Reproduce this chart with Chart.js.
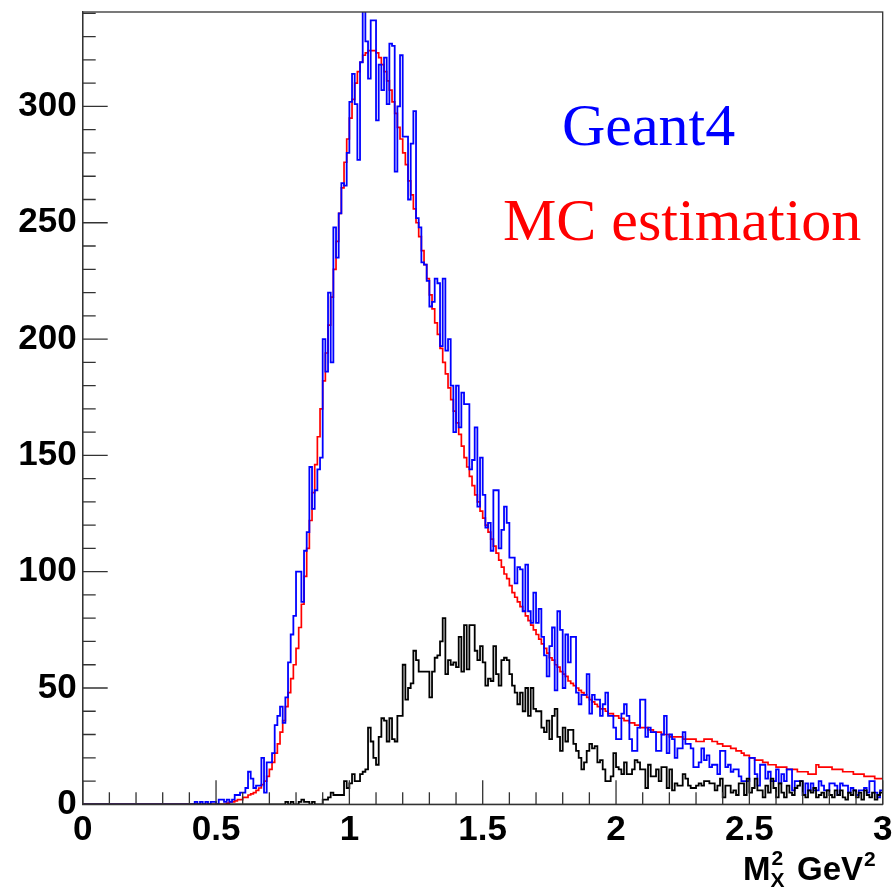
<!DOCTYPE html>
<html><head><meta charset="utf-8">
<script src="https://cdn.jsdelivr.net/npm/chart.js@4.4.1/dist/chart.umd.min.js"></script>
<style>html,body{margin:0;padding:0;background:#fff;overflow:hidden}#wrap{position:relative;width:895px;height:889px}</style>
</head><body><div id="wrap"><canvas id="c" width="895" height="889"></canvas></div>
<script>
// Histogram binning: 300 bins from 0 to 3 (M_X^2, GeV^2)
const BIN_LO = 0, BIN_WIDTH = 0.01;

// MC estimation (red)
const mcEstimation = [
0,0,0,0,0,0,0,0,0,0, 0,0,0,0,0,0,0,0,0,0, 0,0,0,0,0,0,0,0,0,0, 0,0,0,0,0,0,0,0,0,0, 0,0,0,0,0,0,0,0,0,0,
0,0,0,0,0.5,1,1,1.5,2,2,
3,3,4,4.5,5,6,7,8.5,10,12,
15,18,22,26,31,36,42,48,54,60,
67,76,86,98,110,122,134,146,158,170,
182,194,206,218,230,242,254,265,276,286,
295,303,310,315,319,322,323,324,324,324,
323,321,318,315,311,307,302,297,291,286,
280,275,268,262,256,250,244,238,232,226,
219,213,207,202,196,190,185,179,174,169,
164,159,154,149,145,141,137,133,130,126,
123,120,117,114,111,108,105,102,99,97,
94,91,89,87,85,83,81,79,77,75,
73,71,69,67,65,63,62,60,59,57,
56,55,53,52,51,50,49,48,47,46,
45,44,43,42,41,41,40,39,39,38,
38,37,37,36,36,35,35,34,34,33,
33,33,32,32,31,31,31,30,30,30,
29,29,29,29,29,28,28,28,28,28,
27,27,27,28,28,28,27,27,26,26,
25,25,25,24,24,23,23,22,21,21,
20,20,19,19,19,18,18,17,17,17,
16,16,16,16,15,15,15,15,14,14,
14,14,13,13,13,17,16,16,16,16,
16,15,15,15,15,14,14,14,14,13,
13,13,13,12,12,12,12,11,11,11
];

// Geant4 (blue)
const geant4 = [
0,0,0,0,0,0,0,0,0,0, 0,0,0,0,0,0,0,0,0,0, 0,0,0,0,0,0,0,0,0,0, 0,0,0,0,0,0,0,0,0,0,
0,0,1,0,1,0,1,0,1,1,
0,2,2,1,2,1,2,4,4,5,
5,7,14,11,7,8,8,20,5,18,
18,22,34,38,42,35,46,61,73,81,
100,100,87,109,117,145,127,135,144,149,
200,186,220,190,248,235,254,267,266,280,
302,314,301,277,319,345,328,312,337,337,
294,318,307,321,301,327,326,272,300,322,
287,287,260,284,298,252,248,233,232,225,
214,216,226,224,197,226,195,200,180,160,
180,162,177,172,172,144,148,162,128,149,
133,119,121,109,135,135,110,118,128,121,
106,106,95,102,101,83,103,83,78,91,
78,84,72,64,55,68,76,49,83,75,
50,73,61,72,72,48,43,47,47,56,
39,47,45,45,38,43,48,38,38,33,
28,28,39,43,38,28,23,23,33,45,
45,29,33,31,31,23,23,30,38,22,
30,28,20,24,24,31,26,26,24,16,
16,18,24,19,21,16,17,17,13,23,
23,16,17,14,15,15,12,10,10,10,
20,20,13,8,17,17,11,14,10,10,
15,9,13,10,15,15,6,10,10,10,
4,9,6,9,6,6,10,8,6,6,
9,9,8,4,9,8,8,5,7,6,
4,6,6,7,5,10,10,5,3,6
];

// Third histogram (black)
const blackHist = [
0,0,0,0,0,0,0,0,0,0, 0,0,0,0,0,0,0,0,0,0, 0,0,0,0,0,0,0,0,0,0, 0,0,0,0,0,0,0,0,0,0,
0,0,0,0,0,0,0,0,0,0, 0,0,0,0,0,0,0,0,0,0, 0,0,0,0,0,0,0,0,0,0,
0,0,0,0,0,0,1,0,1,0,
0,1,2,1,1,0,1,0,0,0,
2,2,3,5,4,4,4,4,10,7,
9,13,10,10,13,14,15,33,27,20,
17,29,37,36,27,37,28,27,38,38,
60,45,50,52,66,62,57,57,57,57,
46,57,63,64,70,80,56,62,60,61,
59,72,57,77,58,77,77,66,62,68,
61,51,54,53,68,56,51,62,63,62,
56,51,48,43,48,40,50,38,50,41,
40,40,33,31,36,28,38,41,29,23,
33,27,32,32,26,23,20,15,18,23,
26,24,25,18,19,15,10,10,12,22,
16,15,13,18,13,13,15,19,18,15,
15,7,17,12,12,15,10,16,16,7,
15,6,9,8,8,13,11,8,7,7,
8,9,8,10,10,9,9,6,8,11,
3,8,8,5,6,4,9,9,4,11,
5,7,11,6,6,3,8,5,11,7,
3,9,5,3,8,5,4,7,8,10,
4,3,6,5,7,3,4,5,3,6,
4,3,6,4,6,3,2,5,4,6,
3,5,2,6,4,3,5,2,4,5
];

const xTickValues = [0, 0.5, 1, 1.5, 2, 2.5, 3];
const xTickLabels = ['0', '0.5', '1', '1.5', '2', '2.5', '3'];
const yTickValues = [0, 50, 100, 150, 200, 250, 300];
const yTickLabels = ['0', '50', '100', '150', '200', '250', '300'];
const X_MIN = 0, X_MAX = 3, Y_MIN = 0, Y_MAX = 340.6;
const X_MINOR = 0.1, Y_MINOR = 10;

function toSteps(arr) {
  const pts = arr.map((v, i) => ({ x: BIN_LO + i * BIN_WIDTH, y: v }));
  pts.push({ x: BIN_LO + arr.length * BIN_WIDTH, y: arr[arr.length - 1] });
  return pts;
}

const tickFont = { family: "'Liberation Sans', Arial, Helvetica, sans-serif", size: 35, weight: 'bold' };

const frameTicks = {
  id: 'frameTicks',
  afterDatasetsDraw(chart) {
    const { ctx, chartArea: a, scales: { x, y } } = chart;
    ctx.save();
    ctx.strokeStyle = '#333';
    ctx.lineWidth = 1.3;
    ctx.strokeRect(a.left, a.top, a.right - a.left, a.bottom - a.top);
    ctx.beginPath();
    const nx = Math.round((X_MAX - X_MIN) / X_MINOR);
    for (let k = 0; k <= nx; k++) {
      const v = X_MIN + k * X_MINOR;
      const px = x.getPixelForValue(v);
      const len = (k % 5 === 0) ? 24 : 12;
      ctx.moveTo(px, a.bottom); ctx.lineTo(px, a.bottom - len);
    }
    for (let v = Y_MIN; v <= Y_MAX; v += Y_MINOR) {
      const py = y.getPixelForValue(v);
      const len = (Math.round(v) % 50 === 0) ? 25 : 13;
      ctx.moveTo(a.left, py); ctx.lineTo(a.left + len, py);
    }
    ctx.stroke();
    ctx.restore();
  },
  afterDraw(chart) {
    const { ctx } = chart;
    ctx.save();
    ctx.textBaseline = 'alphabetic';
    ctx.textAlign = 'left';
    ctx.font = "60px 'Liberation Serif', 'Times New Roman', serif";
    ctx.fillStyle = '#0000ff';
    ctx.fillText('Geant4', 562, 145);
    ctx.fillStyle = '#ff0000';
    ctx.fillText('MC estimation', 503, 240);
    // axis title  M_X^2 GeV^2
    ctx.fillStyle = '#000';
    const big = "bold 33px 'Liberation Sans', Arial, sans-serif";
    const small = "bold 21px 'Liberation Sans', Arial, sans-serif";
    ctx.font = big;
    ctx.fillText('M', 743, 880);
    const mw = ctx.measureText('M').width;
    ctx.font = small;
    ctx.fillText('2', 743 + mw + 1, 865);
    ctx.fillText('X', 743 + mw, 887);
    ctx.font = big;
    ctx.fillText('GeV', 797, 880);
    const gw = ctx.measureText('GeV').width;
    ctx.font = small;
    ctx.fillText('2', 797 + gw + 1, 866);
    ctx.restore();
  }
};

new Chart(document.getElementById('c'), {
  type: 'line',
  data: {
    datasets: [
      { label: 'MC estimation', data: toSteps(mcEstimation), borderColor: '#ff0000', borderWidth: 1.7, stepped: 'before', pointRadius: 0, fill: false, order: 3 },
      { label: 'Geant4', data: toSteps(geant4), borderColor: '#0000ff', borderWidth: 1.8, stepped: 'before', pointRadius: 0, fill: false, order: 2 },
      { label: 'other', data: toSteps(blackHist), borderColor: '#000000', borderWidth: 1.8, stepped: 'before', pointRadius: 0, fill: false, order: 1 }
    ]
  },
  options: {
    responsive: false,
    animation: false,
    devicePixelRatio: 1,
    layout: { padding: { top: 12, right: 12.3, left: 0, bottom: 0 } },
    plugins: { legend: { display: false }, tooltip: { enabled: false } },
    scales: {
      x: {
        type: 'linear', min: X_MIN, max: X_MAX,
        grid: { display: false, drawTicks: false },
        border: { display: true, color: '#333', width: 1.3 },
        afterBuildTicks: s => { s.ticks = xTickValues.map(v => ({ value: v })); },
        afterFit: s => { s.height = 84.7; s.paddingLeft = 0; s.paddingRight = 0; },
        ticks: { font: tickFont, color: '#000', padding: 5, maxRotation: 0, autoSkip: false,
          callback: v => { const i = xTickValues.indexOf(v); return i >= 0 ? xTickLabels[i] : ''; } }
      },
      y: {
        type: 'linear', min: Y_MIN, max: Y_MAX,
        grid: { display: false, drawTicks: false },
        border: { display: true, color: '#333', width: 1.3 },
        afterBuildTicks: s => { s.ticks = yTickValues.map(v => ({ value: v })); },
        afterFit: s => { s.width = 82.7; s.paddingTop = 0; s.paddingBottom = 0; },
        ticks: { font: tickFont, color: '#000', padding: 6, autoSkip: false,
          callback: v => { const i = yTickValues.indexOf(v); return i >= 0 ? yTickLabels[i] : ''; } }
      }
    }
  },
  plugins: [frameTicks]
});
</script></body></html>
